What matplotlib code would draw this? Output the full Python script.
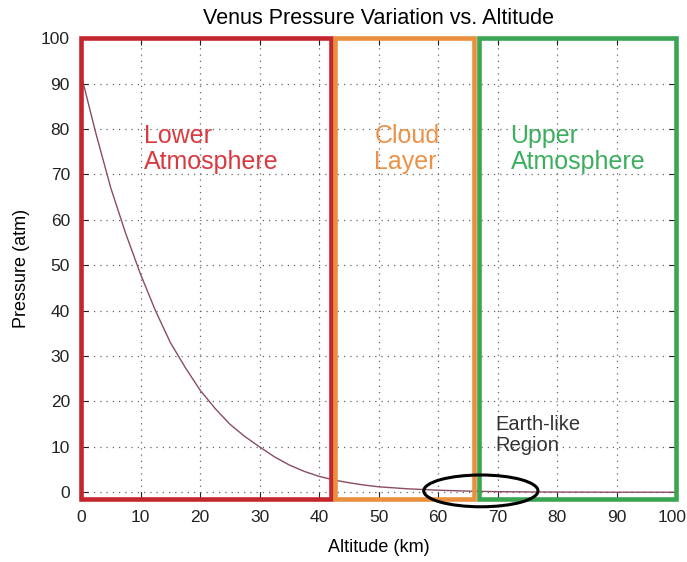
import matplotlib
matplotlib.use("Agg")
import matplotlib.pyplot as plt
from matplotlib.patches import Rectangle, Ellipse
from matplotlib.transforms import ScaledTranslation

# Surface-to-100 km pressure profile of Venus
altitude_km = [0, 2.5, 5, 7.5, 10, 12.5, 15, 17.5, 20, 22.5, 25, 27.5, 30, 32.5, 35,
               37.5, 40, 42.5, 45, 47.5, 50, 55, 60, 65, 70, 75, 80, 90, 100]
pressure_atm = [92, 79, 67, 57, 48, 40, 33, 27.5, 22.5, 18.5, 15, 12.3, 10, 7.8, 6,
                4.6, 3.5, 2.7, 2.1, 1.6, 1.2, 0.75, 0.45, 0.25, 0.13, 0.07, 0.04,
                0.01, 0.003]

# Atmospheric layers: (name, start km, end km)
layer_names = ["Lower\nAtmosphere", "Cloud\nLayer", "Upper\nAtmosphere"]
layer_start = [0, 42.7, 66.9]
layer_end = [42.0, 66.1, 100]

x_ticks = list(range(0, 101, 10))
y_ticks = list(range(0, 101, 10))

plt.rcParams["font.family"] = ["Liberation Sans", "DejaVu Sans"]

fig = plt.figure(figsize=(6.87, 5.62), dpi=100)
ax = fig.add_axes([0.118, 0.112, 0.866, 0.820])

ax.plot(altitude_km, pressure_atm, color="#8a4d5c", lw=1.0, zorder=3)

ax.set_xlim(0, 100)
ax.set_ylim(-1.5, 100)
ax.set_xticks(x_ticks)
ax.set_yticks(y_ticks)
ax.tick_params(direction="in", length=5, width=0.8, top=True, right=True,
               labelsize=12.5, colors="#222222", pad=8)
ax.grid(True, color="#666666", linestyle=(0, (1, 4)), linewidth=0.9)
for s in ax.spines.values():
    s.set_visible(False)

# keep the right-most x tick label inside the canvas
last = ax.get_xticklabels()[-1]
last.set_transform(last.get_transform() + ScaledTranslation(-3 / 72, 0, fig.dpi_scale_trans))

ax.set_title("Venus Pressure Variation vs. Altitude", fontsize=15.5, pad=10)
ax.set_xlabel("Altitude (km)", fontsize=13, labelpad=10)
ax.set_ylabel("Pressure (atm)", fontsize=13, labelpad=8)

box_colors = ["#c4262d", "#ea8f3e", "#3ba553"]
text_colors = ["#d83a40", "#ec9248", "#3cae5d"]
text_x = [10.5, 49.3, 72.2]
for name, x0, x1, bc, tc, tx in zip(layer_names, layer_start, layer_end,
                                    box_colors, text_colors, text_x):
    ax.add_patch(Rectangle((x0, -1.5), x1 - x0, 101.5, fill=False, edgecolor=bc,
                           lw=3.3, clip_on=False, zorder=4))
    ax.text(tx, 81.0, name, color=tc, fontsize=18, va="top", ha="left",
            linespacing=1.1, zorder=5)

ax.text(69.6, 17.0, "Earth-like\nRegion", color="#333333", fontsize=14.5,
        va="top", ha="left", linespacing=1.1, zorder=5)
ax.add_patch(Ellipse((67.2, 0.3), 19.2, 7.0, fill=False, edgecolor="black",
                     lw=2.2, clip_on=False, zorder=6))

fig.savefig("out.png", dpi=100)
